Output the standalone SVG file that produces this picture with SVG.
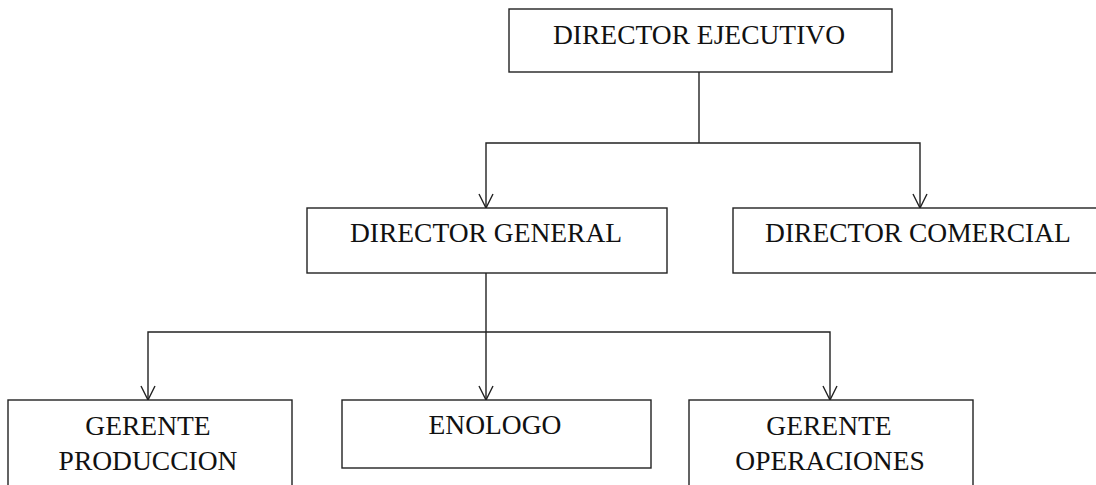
<svg xmlns="http://www.w3.org/2000/svg" width="1096" height="485" viewBox="0 0 1096 485">
  <style>
    .box { fill: #ffffff; stroke: #222222; stroke-width: 1.4; }
    .lbl { font-family: "Liberation Serif", "Times New Roman", serif; font-size: 27.5px; fill: #111111; text-anchor: middle; }
    .wire { fill: none; stroke: #222222; stroke-width: 1.4; }
  </style>
  <defs>
    <!-- open V arrowhead, tip at the line end -->
    <marker id="vhead" viewBox="0 0 16 16" refX="15" refY="8" markerWidth="16" markerHeight="16" markerUnits="userSpaceOnUse" orient="auto-start-reverse">
      <path d="M1,1 L15,8 L1,15" fill="none" stroke="#222222" stroke-width="1.4"/>
    </marker>
  </defs>
  <rect width="1096" height="485" fill="#ffffff"/>

  <g id="connectors">
    <path class="wire" d="M699,72 V143"/>
    <path class="wire" d="M486,208 V143 H920 V208" marker-start="url(#vhead)" marker-end="url(#vhead)"/>
    <path class="wire" d="M486,273 V400" marker-end="url(#vhead)"/>
    <path class="wire" d="M148,400 V332 H830 V400" marker-start="url(#vhead)" marker-end="url(#vhead)"/>
  </g>

  <g id="director-ejecutivo">
    <rect class="box" x="509" y="9" width="383" height="63"/>
    <text class="lbl" x="699" y="44">DIRECTOR EJECUTIVO</text>
  </g>

  <g id="director-general">
    <rect class="box" x="307" y="208" width="360" height="65"/>
    <text class="lbl" x="486" y="242">DIRECTOR GENERAL</text>
  </g>

  <g id="director-comercial">
    <rect class="box" x="733" y="208" width="370" height="65"/>
    <text class="lbl" x="918" y="242">DIRECTOR COMERCIAL</text>
  </g>

  <g id="gerente-produccion">
    <rect class="box" x="8" y="400" width="284" height="95"/>
    <text class="lbl" x="148" y="435">GERENTE</text>
    <text class="lbl" x="148" y="470">PRODUCCION</text>
  </g>

  <g id="enologo">
    <rect class="box" x="342" y="400" width="309" height="68"/>
    <text class="lbl" x="495" y="434">ENOLOGO</text>
  </g>

  <g id="gerente-operaciones">
    <rect class="box" x="689" y="400" width="284" height="95"/>
    <text class="lbl" x="829" y="435">GERENTE</text>
    <text class="lbl" x="830" y="470">OPERACIONES</text>
  </g>
</svg>
